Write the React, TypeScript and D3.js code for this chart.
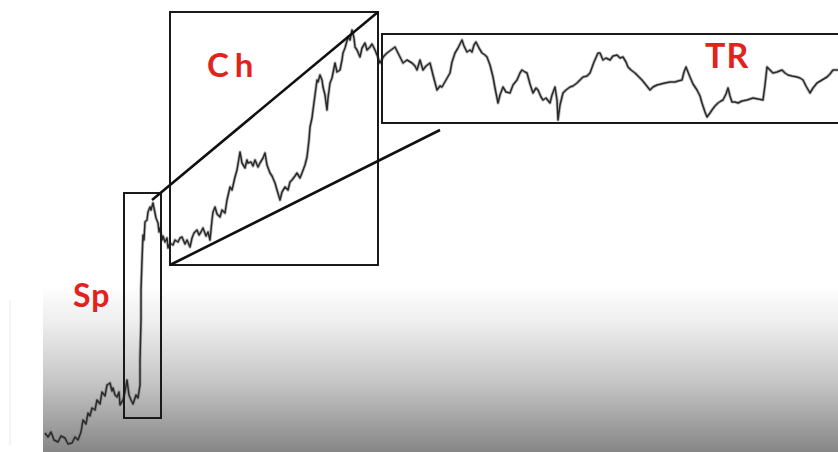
import React from "react";
import * as d3 from "d3";

// Price path: trading day index and price value
const days: number[] = [
  2,5,8,11,15,18,22,25,29,32,35,38,40,43,45,47,49,52,54,57,59,62,64,67,69,70,72,74,76,77,80,82,84,86,88,90,93,95,97,
  97,98,98,99,100,101,102,104,105,107,108,110,111,112,113,115,116,117,119,120,122,124,125,127,130,
  132,135,137,139,142,144,147,149,151,154,156,158,160,163,165,167,169,170,172,174,177,179,182,184,187,189,192,194,197,199,202,204,205,208,210,212,215,217,220,222,224,227,229,232,234,237,239,242,245,247,249,252,254,257,259,262,264,266,267,269,270,272,274,275,277,279,280,282,284,285,287,289,292,294,297,299,300,302,305,307,309,311,312,314,317,319,322,324,327,329,332,334,337,
  341,344,348,352,356,360,364,369,372,374,377,380,383,387,390,394,397,399,403,407,409,412,415,419,421,424,427,429,431,433,436,439,442,444,447,450,452,455,457,460,463,467,470,474,477,479,482,484,487,490,493,495,498,500,503,507,509,512,514,515,517,520,523,527,530,534,537,540,544,547,551,555,557,
  560,563,567,570,574,577,580,583,585,588,592,595,599,603,607,610,614,618,622,627,632,635,639,641,643,645,647,650,654,657,659,662,664,667,669,672,675,678,680,683,685,687,689,692,695,699,704,707,710,715,720,722,724,727,730,734,739,742,745,749,754,757,760,763,767,770,774,779,784,787,790,795,
];
const prices: number[] = [
  19,15,20,12,10,16,14,8,9,15,12,20,32,28,39,36,44,42,52,48,60,56,67,69,61,64,57,55,60,47,52,60,72,57,52,48,57,54,67,
  92,132,162,192,217,212,230,232,240,245,242,249,244,239,234,229,220,224,212,216,210,214,204,209,207,
  212,210,214,215,208,212,205,214,219,222,217,220,224,216,220,212,232,240,245,238,235,242,239,252,265,262,275,282,300,289,284,292,289,290,286,292,285,289,294,299,287,279,276,269,262,252,260,265,262,270,272,276,279,274,279,287,295,312,325,334,342,357,372,370,377,372,365,357,342,354,369,374,389,380,382,392,399,404,415,412,422,414,405,402,395,404,409,402,405,408,402,397,389,
  396,399,402,405,397,389,392,389,386,382,392,382,386,389,377,362,366,365,372,379,390,399,404,412,406,400,402,400,407,410,404,399,397,395,387,375,364,349,357,365,360,359,367,372,379,382,380,379,368,359,364,362,355,352,354,349,357,365,352,332,347,359,362,365,366,369,372,375,376,379,390,399,399,
  392,394,392,396,397,394,395,390,385,382,379,376,372,367,362,365,367,368,369,370,370,371,372,380,385,380,375,368,362,356,349,340,335,339,342,346,349,351,352,358,364,356,350,350,349,351,352,353,354,353,352,367,385,382,379,380,382,379,377,376,375,374,372,366,359,364,369,372,375,378,382,382,
];

// Annotation phases: [startDay, endDay, lowPrice, highPrice]
const phaseBoxes: { name: string; range: [number, number, number, number] }[] = [
  { name: "spike", range: [81, 118, 34, 259] },
  { name: "channel", range: [127, 335, 187, 440] },
  { name: "tradingRange", range: [339, 805, 329, 418] },
];
// Channel trend lines: [day1, price1, day2, price2]
const trendLines: [number, number, number, number][] = [
  [109, 252, 335, 440],
  [127, 187, 397, 322],
];
// Labels: text, day, price (baseline)
const phaseLabels: { text: string; day: number; price: number; size: number; spacing: number }[] = [
  { text: "Sp", day: 30, price: 145, size: 32, spacing: 1 },
  { text: "Ch", day: 164, price: 375, size: 33, spacing: 6 },
  { text: "TR", day: 662, price: 384, size: 34, spacing: 1 },
];

const W = 838;
const H = 452;
const LEFT = 43;

export default function App() {
  const x = d3.scaleLinear().domain([0, 795]).range([LEFT, W]);
  const y = d3.scaleLinear().domain([0, 452]).range([H, 0]);
  const pts: [number, number][] = days.map((d, i) => [d, prices[i]]);
  const line = d3
    .line<[number, number]>()
    .x((d) => x(d[0]))
    .y((d) => y(d[1]))
    .curve(d3.curveLinear);
  const path = line(pts) || "";

  return (
    <svg
      width={W}
      height={H}
      style={{ position: "absolute", left: 0, top: 0, background: "#fff" }}
    >
      <defs>
        <linearGradient id="bg" x1="0" y1="0" x2="0" y2="1">
          <stop offset="0" stopColor="#ffffff" />
          <stop offset="0.63" stopColor="#ffffff" />
          <stop offset="0.72" stopColor="#ececec" />
          <stop offset="0.85" stopColor="#c4c4c4" />
          <stop offset="1" stopColor="#868686" />
        </linearGradient>
        <filter id="soft" x="-5%" y="-5%" width="110%" height="110%">
          <feGaussianBlur stdDeviation="0.5" />
        </filter>
      </defs>
      <rect x={LEFT} y={0} width={W - LEFT} height={H} fill="url(#bg)" />
      <line x1={10} x2={10} y1={300} y2={445} stroke="#f0f0f0" strokeWidth={1.5} />

      {/* price path */}
      <g filter="url(#soft)">
        <path d={path} fill="none" stroke="#666" strokeOpacity={0.45} strokeWidth={3.2} strokeLinejoin="round" />
        <path d={path} fill="none" stroke="#2a2a2a" strokeWidth={1.5} strokeLinejoin="round" />
      </g>

      {/* phase boxes */}
      {phaseBoxes.map((b) => (
        <rect
          key={b.name}
          x={x(b.range[0])}
          y={y(b.range[3])}
          width={x(b.range[1]) - x(b.range[0])}
          height={y(b.range[2]) - y(b.range[3])}
          fill="none"
          stroke="#1a1a1a"
          strokeWidth={2}
        />
      ))}

      {/* channel lines */}
      {trendLines.map((l, i) => (
        <line
          key={i}
          x1={x(l[0])}
          y1={y(l[1])}
          x2={x(l[2])}
          y2={y(l[3])}
          stroke="#111"
          strokeWidth={2.6}
        />
      ))}

      {phaseLabels.map((t) => (
        <text
          key={t.text}
          x={x(t.day)}
          y={y(t.price)}
          fill="#e3221c"
          fontFamily="Lato, 'Open Sans', sans-serif"
          fontWeight={700}
          fontSize={t.size}
          letterSpacing={t.spacing}
        >
          {t.text}
        </text>
      ))}
    </svg>
  );
}
